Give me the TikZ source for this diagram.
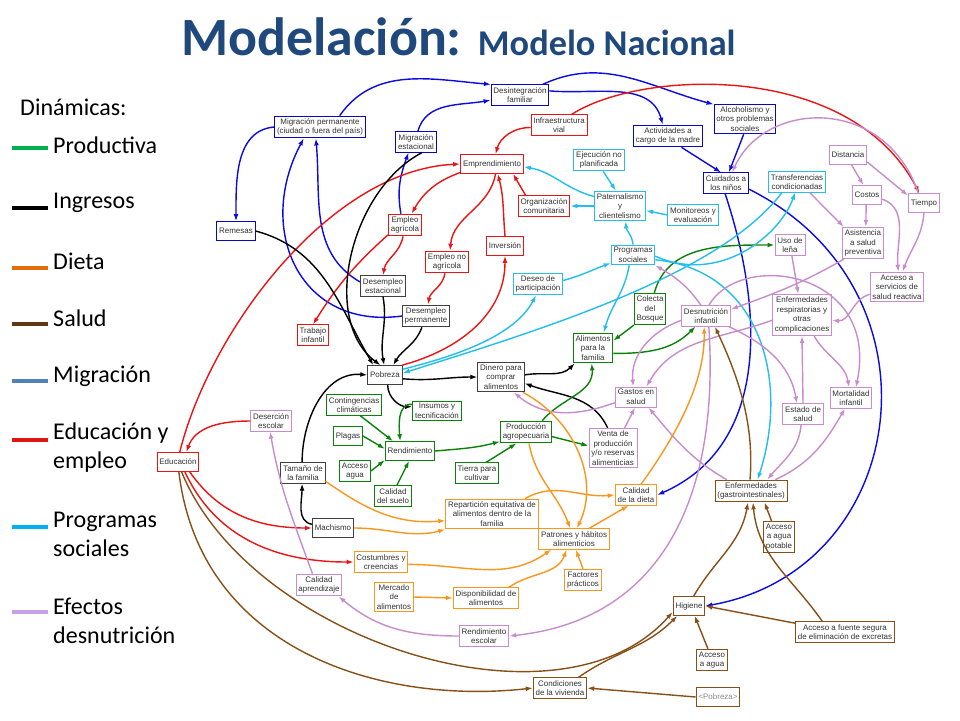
\documentclass[tikz,border=0pt]{standalone}
\usepackage{fontspec}
\setmainfont{Liberation Sans}
\newfontfamily\slidefont{Carlito}
\usetikzlibrary{arrows.meta}
% colores de las dinamicas
\definecolor{titulocol}{RGB}{31,73,125}
\definecolor{migcol}{RGB}{10,10,225}
\definecolor{educol}{RGB}{235,20,20}
\definecolor{ingcol}{RGB}{0,0,0}
\definecolor{prodcol}{RGB}{10,130,10}
\definecolor{progcol}{RGB}{35,190,235}
\definecolor{efeccol}{RGB}{200,140,205}
\definecolor{dietacol}{RGB}{248,150,30}
\definecolor{saludcol}{RGB}{135,80,25}
% colores de la leyenda
\definecolor{lprodcol}{RGB}{0,176,80}
\definecolor{ldietacol}{RGB}{228,108,10}
\definecolor{lsaludcol}{RGB}{99,55,15}
\definecolor{lmigcol}{RGB}{79,129,189}
\definecolor{leducol}{RGB}{220,20,20}
\definecolor{lprogcol}{RGB}{0,176,240}
\definecolor{lefeccol}{RGB}{200,160,230}

\begin{document}
\begin{tikzpicture}[x=0.03cm, y=0.03cm,
    box/.style={draw, line width=0.8pt, fill=white, align=center, inner xsep=2pt, inner ysep=2pt,
      minimum height=0.56cm, text=black!80, font=\fontsize{6.8}{8.2}\selectfont},
    bmig/.style={box, draw=migcol!85!black},
    bedu/.style={box, draw=educol},
    bing/.style={box, draw=black!75},
    bprod/.style={box, draw=prodcol},
    bprog/.style={box, draw=progcol},
    befec/.style={box, draw=efeccol},
    bdieta/.style={box, draw=dietacol},
    bsalud/.style={box, draw=saludcol},
    link/.style={line width=1.2pt, -{Latex[length=6pt, width=4.2pt]}},
    emig/.style={link, draw=migcol},
    eedu/.style={link, draw=educol},
    eing/.style={link, draw=ingcol},
    eprod/.style={link, draw=prodcol},
    eprog/.style={link, draw=progcol},
    eefec/.style={link, draw=efeccol},
    edieta/.style={link, draw=dietacol},
    esalud/.style={link, draw=saludcol},
    leyenda/.style={anchor=west, inner sep=0pt, align=left, font=\slidefont\fontsize{20.5}{24.7}\selectfont},
    muestra/.style={line width=2.6pt}
  ]
  \useasboundingbox (0,0) rectangle (960,-720);

  % Titulo
  \node[anchor=base west, inner sep=0pt, text=titulocol, font=\slidefont\bfseries] (titulo) at (181,-55)
    {\fontsize{46}{46}\selectfont Modelación: \fontsize{31}{31}\selectfont Modelo Nacional};

  % Leyenda
  \node[leyenda] (dinamicas) at (20,-107) {Dinámicas:};
  \node[leyenda] (lprod) at (53,-145) {Productiva};
  \node[leyenda] (ling) at (53,-203) {Ingresos};
  \node[leyenda] (ldieta) at (53,-261) {Dieta};
  \node[leyenda] (lsalud) at (53,-318) {Salud};
  \node[leyenda] (lmig) at (53,-376) {Migración};
  \node[leyenda] (ledu) at (53,-447.5) {Educación y\\empleo};
  \node[leyenda] (lprog) at (53,-534) {Programas\\sociales};
  \node[leyenda] (lefec) at (53,-620.5) {Efectos\\desnutrición};
  \draw[muestra, draw=lprodcol] (12,-148) -- (48,-148);
  \draw[muestra, draw=black, line width=3.2pt] (12,-208) -- (48,-208);
  \draw[muestra, draw=ldietacol] (12,-268) -- (48,-268);
  \draw[muestra, draw=lsaludcol] (12,-324) -- (48,-324);
  \draw[muestra, draw=lmigcol] (12,-381) -- (48,-381);
  \draw[muestra, draw=leducol] (12,-440) -- (48,-440);
  \draw[muestra, draw=lprogcol] (12,-527) -- (48,-527);
  \draw[muestra, draw=lefeccol] (12,-612) -- (48,-612);

  % Migracion
  \node[bmig] (mperm) at (320,-127) {Migración permanente\\(ciudad o fuera del país)};
  \node[bmig] (remesas) at (236,-231) {Remesas};
  \node[bmig] (mest) at (416,-142) {Migración\\estacional};
  \node[bmig] (desint) at (520,-95) {Desintegración\\familiar};
  \node[bmig] (activ) at (668,-136) {Actividades a\\cargo de la madre};
  \node[bmig] (alcoh) at (745,-119) {Alcoholismo y\\otros problemas\\sociales};
  \node[bmig] (cuidados) at (726,-183) {Cuidados a\\los niños};

  % Educacion y empleo
  \node[bedu] (infra) at (559,-125) {Infraestructura\\vial};
  \node[bedu] (empr) at (492,-164) {Emprendimiento};
  \node[bedu] (organiz) at (544,-206) {Organización\\comunitaria};
  \node[bedu] (eagric) at (405,-225) {Empleo\\agrícola};
  \node[bedu] (enoagric) at (447,-262) {Empleo no\\agrícola};
  \node[bedu] (inversion) at (505,-246) {Inversión};
  \node[bedu] (tinfantil) at (313,-335) {Trabajo\\infantil};
  \node[bedu] (educacion) at (178,-462) {Educación};

  % Ingresos
  \node[bing] (desest) at (383,-286) {Desempleo\\estacional};
  \node[bing] (desperm) at (426,-316) {Desempleo\\permanente};
  \node[bing] (pobreza) at (385,-375) {Pobreza};
  \node[bing] (dinero) at (501,-377) {Dinero para\\comprar\\alimentos};
  \node[bing] (tamano) at (303,-473) {Tamaño de\\la familia};
  \node[bing] (machismo) at (333,-528) {Machismo};

  % Productiva
  \node[bprod] (conting) at (354,-405) {Contingencias\\climáticas};
  \node[bprod] (insumos) at (437,-411) {Insumos y\\tecnificación};
  \node[bprod] (plagas) at (348,-436) {Plagas};
  \node[bprod] (rendim) at (410,-451) {Rendimiento};
  \node[bprod] (accagua) at (355,-471) {Acceso\\agua};
  \node[bprod] (calsuelo) at (393,-496) {Calidad\\del suelo};
  \node[bprod] (produc) at (526,-432) {Producción\\agropecuaria};
  \node[bprod] (tierra) at (477,-473) {Tierra para\\cultivar};
  \node[bprod] (alimfam) at (593,-348) {Alimentos\\para la\\familia};
  \node[bprod] (colecta) at (650,-309) {Colecta\\del\\Bosque};

  % Programas sociales
  \node[bprog] (ejec) at (599,-160) {Ejecución no\\planificada};
  \node[bprog] (patern) at (620,-206) {Paternalismo\\y\\clientelismo};
  \node[bprog] (monit) at (693,-215) {Monitoreos y\\evaluación};
  \node[bprog] (transf) at (797,-182) {Transferencias\\condicionadas};
  \node[bprog] (progsoc) at (633,-255) {Programas\\sociales};
  \node[bprog] (deseo) at (538,-284) {Deseo de\\participación};

  % Efectos desnutricion
  \node[befec] (distancia) at (848,-155) {Distancia};
  \node[befec] (costos) at (867,-195) {Costos};
  \node[befec] (tiempo) at (924,-203) {Tiempo};
  \node[befec] (asist) at (863,-243) {Asistencia\\a salud\\preventiva};
  \node[befec] (accserv) at (897,-287) {Acceso a\\servicios de\\salud reactiva};
  \node[befec] (usolena) at (790,-245) {Uso de\\leña};
  \node[befec] (enfresp) at (802,-315) {Enfermedades\\respiratorias y\\otras\\complicaciones};
  \node[befec] (desnut) at (706,-316) {Desnutrición\\infantil};
  \node[befec] (gastos) at (636,-397) {Gastos en\\salud};
  \node[befec] (venta) at (613,-448) {Venta de\\producción\\y/o reservas\\alimenticias};
  \node[befec] (estsalud) at (803,-414) {Estado de\\salud};
  \node[befec] (mortal) at (851,-398) {Mortalidad\\infantil};
  \node[befec] (desercion) at (271,-421) {Deserción\\escolar};
  \node[befec] (calaprend) at (319,-585) {Calidad\\aprendizaje};
  \node[befec] (rendesc) at (484,-636) {Rendimiento\\escolar};

  % Dieta
  \node[bdieta] (repart) at (492,-514) {Repartición equitativa de\\alimentos dentro de la\\familia};
  \node[bdieta] (caldieta) at (636,-495) {Calidad\\de la dieta};
  \node[bdieta] (patrones) at (574,-539) {Patrones y hábitos\\alimenticios};
  \node[bdieta] (factores) at (583,-580) {Factores\\prácticos};
  \node[bdieta] (costumbres) at (381,-562) {Costumbres y\\creencias};
  \node[bdieta] (mercado) at (394,-597) {Mercado\\de\\alimentos};
  \node[bdieta] (dispon) at (486,-598) {Disponibilidad de\\alimentos};

  % Salud
  \node[bsalud] (enfgastro) at (751,-491) {Enfermedades\\(gastrointestinales)};
  \node[bsalud] (accpotable) at (779,-537) {Acceso\\a agua\\potable};
  \node[bsalud] (higiene) at (689,-606) {Higiene};
  \node[bsalud] (accaguab) at (712,-660) {Acceso\\a agua};
  \node[bsalud] (accfuente) at (845,-632) {Acceso a fuente segura\\de eliminación de excretas};
  \node[bsalud] (condic) at (560,-688) {Condiciones\\de la vivienda};
  \node[bsalud, text=black!45] (pobrezab) at (718,-697) {<Pobreza>};

  % Flechas de migracion
  \draw[emig] (mperm.west) to[out=185,in=90] (remesas.north);
  \draw[emig] (mperm.30) to[out=55,in=175] (desint.160);
  \draw[emig] (mest.80) to[out=75,in=190] (desint.190);
  \draw[emig] (desint.8) to[out=-5,in=105] (activ.115);
  \draw[emig] (desint.25) to[out=25,in=165] (alcoh.155);
  \draw[emig] (activ.-40) -- (cuidados.115);
  \draw[emig] (alcoh.-95) -- (cuidados.75);
  \draw[emig] (cuidados.-15) .. controls (950,-290) and (910,-570) .. (higiene.east);
  \draw[emig] (cuidados.-95) .. controls (770,-330) and (760,-450) .. (caldieta.east);
  \draw[emig] (eagric.110) to[out=100,in=-110] (mest.-125);
  \draw[emig] (desest.170) to[out=150,in=-85] (mperm.-110);
  \draw[emig] (desperm.west) .. controls (300,-330) and (255,-230) .. (mperm.-145);

  % Flechas de educacion y empleo
  \draw[eedu] (infra.185) to[out=180,in=75] (empr.70);
  \draw[eedu] (infra.40) .. controls (640,-70) and (850,-60) .. (tiempo.115);
  \draw[eedu] (educacion.80) .. controls (210,-330) and (330,-170) .. (empr.west);
  \draw[eedu] (empr.-165) to[out=200,in=60] (eagric.60);
  \draw[eedu] (eagric.-100) to[out=-100,in=80] (desest.north);
  \draw[eedu] (eagric.-150) to[bend right=8] (tinfantil.north);
  \draw[eedu] (empr.-70) to[out=-100,in=85] (enoagric.75);
  \draw[eedu] (enoagric.-100) to[out=-100,in=80] (desperm.80);
  \draw[eedu] (inversion.north) to[out=95,in=-75] (empr.-60);
  \draw[eedu] (pobreza.30) to[out=15,in=-90] (inversion.south);
  \draw[eedu] (organiz.150) -- (empr.-25);
  \draw[eedu] (desercion.west) to[out=180,in=70] (educacion.50);
  \draw[eedu] (educacion.-40) to[out=-55,in=180] (machismo.west);
  \draw[eedu] (educacion.-55) to[out=-65,in=180] (costumbres.west);

  % Flechas de ingresos
  \draw[eing] (remesas.east) to[out=-15,in=120] (pobreza.140);
  \draw[eing] (mest.-60) .. controls (350,-190) and (320,-320) .. (pobreza.115);
  \draw[eing] (desest.south) to[out=-80,in=100] (pobreza.95);
  \draw[eing] (desperm.-110) to[out=-110,in=60] (pobreza.50);
  \draw[eing] (pobreza.-12) to[out=-5,in=180] (dinero.west);
  \draw[eing] (pobreza.-75) to[out=-90,in=180] (insumos.170);
  \draw[eing] (tamano.95) to[out=90,in=175] (pobreza.west);
  \draw[eing] (machismo.170) to[out=170,in=-90] (tamano.-95);
  \draw[eing] (dinero.5) to[out=10,in=-135] (alimfam.-140);
  \draw[eing] (venta.105) to[out=115,in=-20] (dinero.-15);

  % Flechas productivas
  \draw[eprod] (conting.-60) -- (rendim.150);
  \draw[eprod] (plagas.east) -- (rendim.175);
  \draw[eprod] (accagua.east) -- (rendim.-160);
  \draw[eprod] (calsuelo.70) -- (rendim.-95);
  \draw[eprod] (insumos.165) to[out=175,in=95] (rendim.135);
  \draw[eprod] (rendim.east) to[out=5,in=195] (produc.-160);
  \draw[eprod] (tierra.50) -- (produc.-130);
  \draw[eprod] (produc.-10) -- (venta.175);
  \draw[eprod] (produc.35) to[out=50,in=-85] (alimfam.-95);
  \draw[eprod] (colecta.-135) -- (alimfam.20);
  \draw[eprod] (alimfam.-15) to[out=0,in=-135] (desnut.-135);
  \draw[eprod] (colecta.75) to[out=75,in=180] (usolena.west);

  % Flechas de programas sociales
  \draw[eprog] (ejec.-70) -- (patern.105);
  \draw[eprog] (patern.160) to[out=165,in=-10] (empr.-5);
  \draw[eprog] (patern.west) -- (organiz.east);
  \draw[eprog] (monit.west) -- (patern.-10);
  \draw[eprog] (progsoc.north) to[out=95,in=-85] (patern.-70);
  \draw[eprog] (deseo.8) to[out=15,in=-160] (progsoc.-160);
  \draw[eprog] (progsoc.-110) to[out=-100,in=75] (alimfam.55);
  \draw[eprog] (pobreza.18) .. controls (460,-355) and (515,-335) .. (deseo.-100);
  \draw[eprog] (transf.-145) .. controls (720,-275) and (540,-330) .. (pobreza.6);
  \draw[eprog] (progsoc.-3) .. controls (720,-285) and (780,-235) .. (transf.-100);
  \draw[eprog] (progsoc.-12) .. controls (760,-270) and (790,-380) .. (enfgastro.60);

  % Flechas de efectos de la desnutricion
  \draw[eefec] (distancia.-70) -- (costos.110);
  \draw[eefec] (distancia.-20) -- (tiempo.155);
  \draw[eefec] (costos.-95) -- (asist.80);
  \draw[eefec] (transf.-40) -- (asist.140);
  \draw[eefec] (costos.-15) to[out=-20,in=95] (accserv.85);
  \draw[eefec] (tiempo.-90) to[out=-95,in=70] (accserv.70);
  \draw[eefec] (tiempo.120) .. controls (885,-95) and (765,-100) .. (cuidados.60);
  \draw[eefec] (accserv.-165) to[out=195,in=-5] (enfresp.-10);
  \draw[eefec] (asist.-140) to[out=-150,in=20] (desnut.15);
  \draw[eefec] (usolena.-80) -- (enfresp.100);
  \draw[eefec] (enfresp.-60) to[out=-60,in=100] (mortal.100);
  \draw[eefec] (estsalud.north) -- (enfresp.south);
  \draw[eefec] (desnut.-25) to[out=-25,in=100] (estsalud.120);
  \draw[eefec] (desnut.75) .. controls (740,-250) and (880,-270) .. (mortal.65);
  \draw[eefec] (estsalud.-100) to[out=-95,in=50] (enfgastro.35);
  \draw[eefec] (enfgastro.25) to[out=25,in=-120] (mortal.-120);
  \draw[eefec] (desnut.190) to[out=200,in=95] (gastos.105);
  \draw[eefec] (enfresp.-170) to[out=200,in=60] (gastos.45);
  \draw[eefec] (gastos.-165) to[out=-160,in=-40] (dinero.-50);
  \draw[eefec] (venta.60) -- (gastos.-95);
  \draw[eefec] (enfgastro.155) to[out=150,in=-50] (gastos.-40);
  \draw[eefec] (desnut.115) to[out=125,in=-30] (progsoc.-25);
  \draw[eefec] (desnut.-75) .. controls (720,-500) and (660,-620) .. (rendesc.east);
  \draw[eefec] (rendesc.west) to[out=180,in=-40] (calaprend.-30);
  \draw[eefec] (calaprend.120) to[out=110,in=-80] (desercion.-95);

  % Flechas de dieta
  \draw[edieta] (tamano.-20) to[out=-35,in=185] (repart.-172);
  \draw[edieta] (machismo.east) to[out=0,in=195] (repart.south west);
  \draw[edieta] (repart.25) to[out=30,in=185] (caldieta.west);
  \draw[edieta] (dinero.-35) .. controls (575,-420) and (600,-480) .. (patrones.75);
  \draw[edieta] (produc.-75) to[out=-80,in=110] (patrones.110);
  \draw[edieta] (costumbres.-5) to[out=0,in=-145] (patrones.-155);
  \draw[edieta] (mercado.east) -- (dispon.west);
  \draw[edieta] (dispon.25) to[out=35,in=-110] (patrones.-125);
  \draw[edieta] (factores.north) -- (patrones.-80);
  \draw[edieta] (patrones.35) -- (caldieta.-125);
  \draw[edieta] (caldieta.65) .. controls (680,-430) and (705,-380) .. (desnut.-100);

  % Flechas de salud
  \draw[esalud] (educacion.-70) .. controls (250,-640) and (560,-740) .. (higiene.-160);
  \draw[esalud] (educacion.-85) .. controls (200,-650) and (380,-705) .. (condic.west);
  \draw[esalud] (condic.30) to[out=35,in=-135] (higiene.-140);
  \draw[esalud] (pobrezab.west) -- (condic.east);
  \draw[esalud] (accaguab.110) -- (higiene.-60);
  \draw[esalud] (accfuente.170) -- (higiene.east);
  \draw[esalud] (accfuente.155) to[out=125,in=-85] (enfgastro.-80);
  \draw[esalud] (higiene.65) to[out=60,in=-100] (enfgastro.-105);
  \draw[esalud] (accpotable.115) -- (enfgastro.-40);
  \draw[esalud] (enfgastro.95) .. controls (755,-420) and (735,-370) .. (desnut.-50);
\end{tikzpicture}
\end{document}
